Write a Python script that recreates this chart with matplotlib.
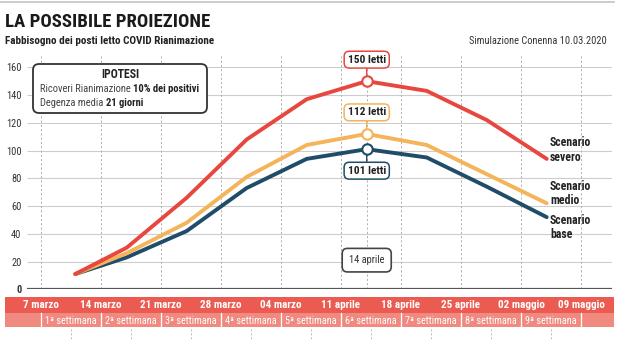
import numpy as np
import matplotlib
matplotlib.use("Agg")
import matplotlib.pyplot as plt
from matplotlib.patches import Rectangle, FancyBboxPatch
from matplotlib.lines import Line2D
from matplotlib.transforms import blended_transform_factory, IdentityTransform

# ---- dati ----
origine = np.datetime64("2020-03-07")
date_punti = ["2020-03-11", "2020-03-17", "2020-03-24", "2020-03-31", "2020-04-07",
              "2020-04-14", "2020-04-21", "2020-04-28", "2020-05-05"]
scenario_severo = [11, 30, 66, 108, 137, 150, 143, 122, 94]
scenario_medio = [11, 26, 48, 81, 104, 112, 104, 83, 62]
scenario_base = [11, 23, 42, 73, 94, 101, 95, 74, 52]
etichette_date = ["7 marzo", "14 marzo", "21 marzo", "28 marzo", "04 marzo",
                  "11 aprile", "18 aprile", "25 aprile", "02 maggio", "09 maggio"]
etichette_settimane = ["1ª settimana", "2ª settimana", "3ª settimana", "4ª settimana",
                       "5ª settimana", "6ª settimana", "7ª settimana", "8ª settimana",
                       "9ª settimana"]
valori_y = [0, 20, 40, 60, 80, 100, 120, 140, 160]
giorno_picco = "2020-04-14"

giorni = (np.array(date_punti, dtype="datetime64[D]") - origine).astype(int)
giorno_p = int((np.datetime64(giorno_picco) - origine).astype(int))

# ---- stile ----
ROSSO = "#e8473f"
GIALLO = "#f3b45a"
BLU = "#1f4c69"
FONT = ["Roboto Condensed", "Open Sans Condensed", "Liberation Sans Narrow",
        "Roboto", "DejaVu Sans"]
plt.rcParams["font.family"] = FONT

W, H = 620, 340
fig = plt.figure(figsize=(W / 100, H / 100), dpi=100)
fig.patch.set_facecolor("white")


def fx(x):
    return x / W


def fy(y):
    return 1 - y / H


# area del grafico (in pixel: x 27-612, y 55-289)
x0_px, x1_px, ytop_px, y0_px = 27, 612, 55, 289.3
ax = fig.add_axes([fx(x0_px), fy(y0_px), fx(x1_px - x0_px), (y0_px - ytop_px) / H])
px_giorno = 60 / 7
ax.set_xlim((x0_px - 41) / px_giorno, (x1_px - 41) / px_giorno)
ax.set_ylim(0, (y0_px - ytop_px) / 1.3875)
for s in ax.spines.values():
    s.set_visible(False)
ax.set_xticks([])
ax.set_yticks(valori_y)
ax.set_yticklabels([str(v) for v in valori_y])
ax.tick_params(axis="y", length=0, pad=4, labelsize=7.5, labelcolor="#333333")
ax.get_yticklabels()[0].set_fontweight("bold")
ax.patch.set_alpha(0)

# griglia orizzontale
xl = ax.get_xlim()
ax.hlines(valori_y[1:], xl[0], xl[1], color="#cdcdcd", lw=0.8, zorder=0)
ax.axhline(0, color="#555555", lw=1.6, zorder=1)

# griglia verticale settimanale tratteggiata
for k in range(len(etichette_date)):
    ax.axvline(7 * k, color="#b0b0b0", lw=0.7, ls=(0, (2.2, 2.2)), zorder=0)
ax.axvline(giorno_p, color="#b0b0b0", lw=0.7, ls=(0, (2.2, 2.2)), zorder=0)

# curve
serie = [(scenario_base, BLU, 3), (scenario_medio, GIALLO, 4), (scenario_severo, ROSSO, 5)]
for valori, col, z in serie:
    ax.plot(giorni, valori, color=col, lw=2.8, solid_capstyle="round",
            solid_joinstyle="round", zorder=z)

# etichette del picco
offset = {ROSSO: 15.5, GIALLO: 15.5, BLU: -15.5}
for valori, col, z in serie:
    i = int(np.argmax(valori))
    ax.plot(giorni[i], valori[i], "o", ms=7.5, mfc="white", mec=col, mew=1.5, zorder=z + 5)
    ax.annotate(f"{valori[i]} letti", xy=(giorni[i], valori[i]),
                xytext=(0, offset[col]), textcoords="offset points",
                ha="center", va="center", fontsize=8.2, fontweight="bold", color="#222222",
                bbox=dict(boxstyle="round,pad=0.3,rounding_size=0.45", fc="white",
                          ec=col, lw=1.1),
                arrowprops=dict(arrowstyle="-", color=col, lw=1.0, shrinkA=0, shrinkB=4),
                zorder=z + 6)

# data del picco
ax.text(giorno_p, 21, "14 aprile", ha="center", va="center", fontsize=7.5,
        color="#333333", zorder=10,
        bbox=dict(boxstyle="round,pad=0.65,rounding_size=0.5", fc="white",
                  ec="#444444", lw=1.2))

# nomi degli scenari
for testo, ymid in [("Scenario\nsevero", 150), ("Scenario\nmedio", 193.5),
                    ("Scenario\nbase", 227.5)]:
    fig.text(fx(550), fy(ymid), testo, ha="left", va="center", fontsize=8.5,
             fontweight="bold", color="#222222", linespacing=1.15)

# riquadro ipotesi
fig.add_artist(FancyBboxPatch((33, H - 113), 174, 49,
                              boxstyle="round,pad=0,rounding_size=6",
                              fc="white", ec="#333333", lw=1.3,
                              transform=IdentityTransform(), zorder=3))
fig.text(fx(120), fy(75), "IPOTESI", ha="center", va="center", fontsize=8.5,
         fontweight="bold", color="#222222", zorder=4)
renderer = fig.canvas.get_renderer()
righe = [("Ricoveri Rianimazione ", "10% dei positivi", 92.5),
         ("Degenza media ", "21 giorni", 106)]
for norm, gras, yb in righe:
    t = fig.text(fx(40), fy(yb), norm, ha="left", va="baseline", fontsize=7.6,
                 color="#444444", zorder=4)
    xr = t.get_window_extent(renderer).x1
    fig.text(xr / W, fy(yb), gras, ha="left", va="baseline", fontsize=7.6,
             fontweight="bold", color="#222222", zorder=4)

# fascia delle date
blend = blended_transform_factory(ax.transData, fig.transFigure)
fig.add_artist(Rectangle((5, H - 313), 609, 16, fc="#ec5b51", ec="none",
                         transform=IdentityTransform(), zorder=1))
fig.add_artist(Rectangle((5, H - 327), 609, 14, fc="#f08a80", ec="none",
                         transform=IdentityTransform(), zorder=1))
for k, lab in enumerate(etichette_date):
    fig.text(7 * k, fy(305), lab, transform=blend, ha="center", va="center",
             fontsize=8, fontweight="bold", color="white", zorder=2)
    fig.add_artist(Line2D([7 * k, 7 * k], [fy(313), fy(327)], transform=blend,
                          color="white", lw=0.9, zorder=2))
for k, lab in enumerate(etichette_settimane):
    fig.text(7 * k + 3.5, fy(320.5), lab, transform=blend, ha="center", va="center",
             fontsize=7.3, color="white", zorder=2)
# tratteggi sotto la fascia
for k in range(len(etichette_settimane)):
    fig.add_artist(Line2D([7 * k + 3.5] * 2, [fy(329), fy(340)], transform=blend,
                          color="#bbbbbb", lw=0.7, ls=(0, (2, 2)), zorder=0))

# intestazione
fig.add_artist(Line2D([0, fx(614)], [fy(1.5), fy(1.5)], color="#c4c4c4", lw=1.2))
fig.text(fx(5), fy(27), "LA POSSIBILE PROIEZIONE", ha="left", va="baseline",
         fontsize=13.5, fontweight="bold", color="#1a1a1a")
fig.text(fx(5), fy(44), "Fabbisogno dei posti letto COVID Rianimazione", ha="left",
         va="baseline", fontsize=8, fontweight="bold", color="#222222")
fig.text(fx(607), fy(44), "Simulazione Conenna 10.03.2020", ha="right",
         va="baseline", fontsize=7.5, color="#333333")

fig.savefig("out.png", dpi=100)
